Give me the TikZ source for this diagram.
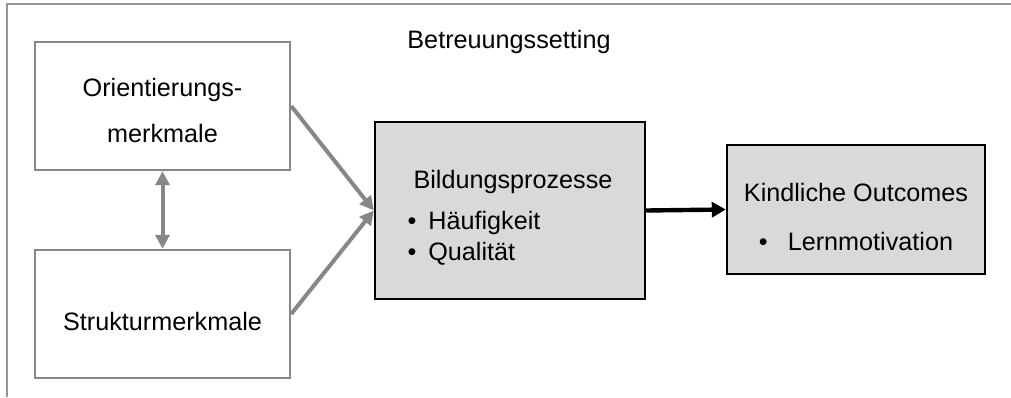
\documentclass[tikz,border=0pt]{standalone}
\usepackage{fontspec}
\setmainfont{Liberation Sans}
\usetikzlibrary{arrows.meta}
\definecolor{framegray}{RGB}{150,150,150}
\definecolor{arrowgray}{RGB}{135,135,135}
\definecolor{boxfill}{RGB}{217,217,217}
\newcommand{\lowertext}[2]{\raisebox{-#1}[\height][\depth]{#2}}
\begin{document}
\begin{tikzpicture}[x=0.5pt,y=-0.5pt,
  font=\fontsize{12.6}{15.5}\selectfont,
  whitebox/.style={draw=arrowgray, line width=1.2pt, fill=white, minimum width=127.5pt, minimum height=64pt, align=center, inner sep=0pt},
  graybox/.style={draw=black, line width=1.2pt, fill=boxfill, inner sep=0pt},
  grayarrow/.style={draw=arrowgray, line width=2pt, -{Triangle[length=7pt,width=7pt]}},
  blackarrow/.style={draw=black, line width=2.2pt, -{Triangle[length=7pt,width=7.5pt]}}]
  \useasboundingbox (0,0) rectangle (1011,397);

  % frame of the setting
  \draw[framegray, line width=0.6pt] (7,397) -- (7,4) -- (1011,4);
  \node (setting) at (509,42) {Betreuungssetting};

  % left boxes
  \node[whitebox] (orient) at (162.5,106) {\lowertext{3.5pt}{\begin{tabular}{c}Orientierungs-\\[7.5pt]merkmale\end{tabular}}};
  \node[whitebox] (struktur) at (162.5,314) {\lowertext{3.5pt}{Strukturmerkmale}};

  % process box
  \node[graybox, minimum width=135pt, minimum height=88.5pt] (bildung) at (510,210.5) {%
    \lowertext{4pt}{\begin{tabular}{@{}l@{}}
      \hspace{3pt}Bildungsprozesse\\[5pt]
      \textbullet\hspace{6pt}Häufigkeit\\
      \textbullet\hspace{6pt}Qualität
    \end{tabular}}};

  % outcome box
  \node[graybox, minimum width=129pt, minimum height=64.5pt] (outcome) at (856,209.5) {%
    \lowertext{5pt}{\begin{tabular}{@{}c@{}}
      Kindliche Outcomes\\[9pt]
      \textbullet\hspace{10pt}Lernmotivation
    \end{tabular}}};

  % connectors
  \draw[grayarrow] (orient.east) -- (bildung.west);
  \draw[grayarrow] (struktur.east) -- (bildung.west);
  \draw[grayarrow, {Triangle[length=7pt,width=7pt]}-{Triangle[length=7pt,width=7pt]}] (orient.south) -- (struktur.north);
  \draw[blackarrow] (bildung.east) -- (outcome.west);

\end{tikzpicture}
\end{document}
